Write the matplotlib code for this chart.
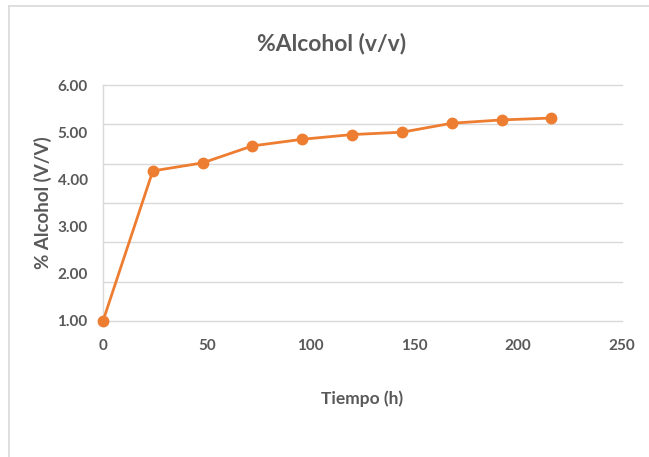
import matplotlib
matplotlib.use("Agg")
import matplotlib.pyplot as plt
from matplotlib.lines import Line2D
import numpy as np

# ── Data ──────────────────────────────────────────────────────────────────────
tiempo_h = [0, 24, 48, 72, 96, 120, 144, 168, 192, 216]
alcohol_vv = [1.00, 4.18, 4.35, 4.71, 4.85, 4.95, 5.00, 5.19, 5.26, 5.30]
y_ticks = [1.00, 2.00, 3.00, 4.00, 5.00, 6.00]
x_ticks = [0, 50, 100, 150, 200, 250]

TEXT = "#595959"
GRID = "#d9d9d9"
ORANGE = "#ed7d31"

plt.rcParams["font.family"] = ["Lato", "DejaVu Sans"]

fig = plt.figure(figsize=(6.49, 4.57), dpi=100)
ax = fig.add_axes([0.1587, 0.2976, 0.7997, 0.5164])

ax.plot(tiempo_h, alcohol_vv, color=ORANGE, linewidth=2.0,
        marker="o", markersize=7.5, markerfacecolor=ORANGE,
        markeredgecolor=ORANGE, zorder=3, clip_on=False)

ax.set_xlim(0, 250)
ax.set_ylim(1, 6)
ax.set_xticks(x_ticks)
ax.set_yticks(y_ticks)
ax.set_yticklabels([f"{v:.2f}" for v in y_ticks])

# horizontal grid: seven evenly spaced lines across the value range
for g in np.linspace(1, 6, 7):
    ax.axhline(g, color=GRID, linewidth=1.0, zorder=1, clip_on=False)

for s in ("top", "right", "bottom"):
    ax.spines[s].set_visible(False)
ax.spines["left"].set_color(GRID)
ax.spines["left"].set_linewidth(1.0)

ax.tick_params(length=0, labelsize=11, labelcolor=TEXT)
ax.tick_params(axis="x", pad=13)
ax.tick_params(axis="y", pad=11)
for lab in ax.get_xticklabels() + ax.get_yticklabels():
    lab.set_fontweight("bold")

ax.set_xlabel("Tiempo (h)", fontsize=12.5, fontweight="bold", color=TEXT,
              labelpad=27)
ax.set_ylabel("% Alcohol (V/V)", fontsize=13.5, fontweight="bold",
              color=TEXT, labelpad=4)
fig.text(0.511, 0.904, "%Alcohol (v/v)", ha="center", va="center",
         fontsize=16.5, fontweight="bold", color=TEXT)

# chart-area frame (top and left edges)
fig.add_artist(Line2D([0.0143, 1.0], [0.986, 0.986], color=GRID,
                      linewidth=1.2, transform=fig.transFigure))
fig.add_artist(Line2D([0.0143, 0.0143], [0.0, 0.986], color=GRID,
                      linewidth=1.2, transform=fig.transFigure))

fig.savefig("out.png", dpi=100)
